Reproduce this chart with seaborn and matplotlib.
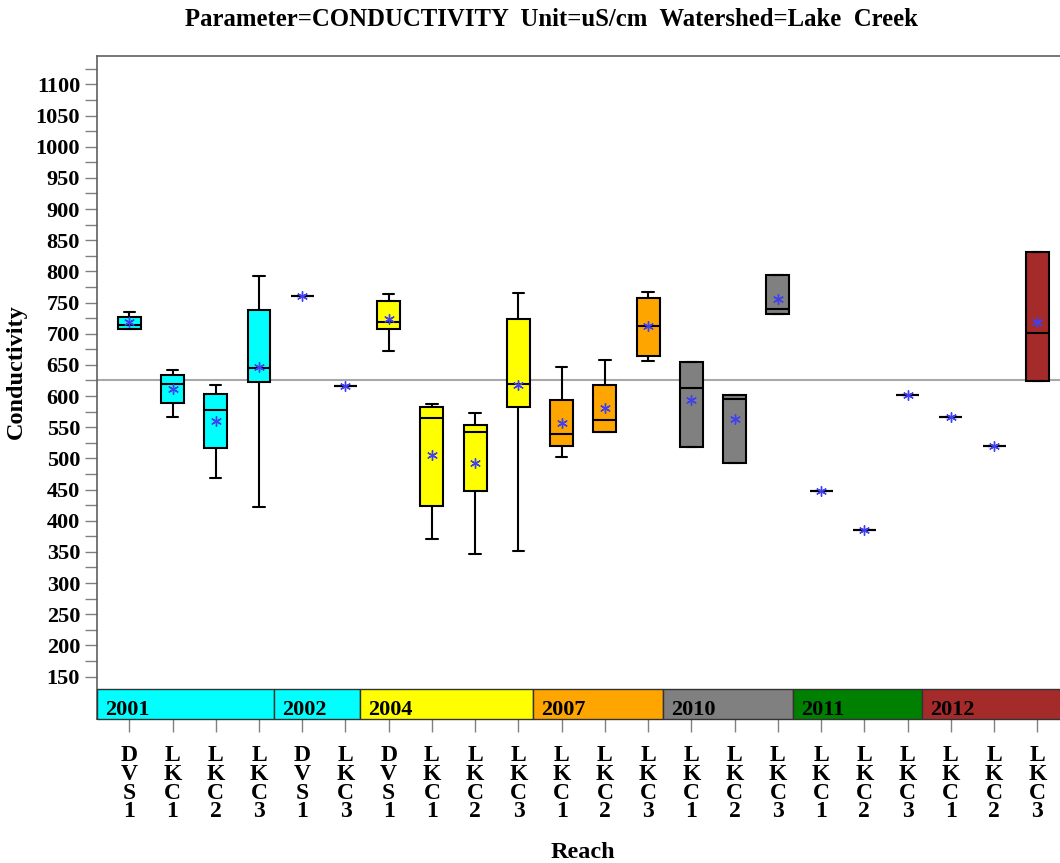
import matplotlib
matplotlib.use('Agg')
import matplotlib.pyplot as plt
from matplotlib.patches import Rectangle
import seaborn as sns
import pandas as pd
import numpy as np

# one entry per box, in plot order
years = ['2001'] * 4 + ['2002'] * 2 + ['2004'] * 4 + ['2007'] * 3 + ['2010'] * 3 + ['2011'] * 3 + ['2012'] * 3
reaches = ['DVS1', 'LKC1', 'LKC2', 'LKC3', 'DVS1', 'LKC3', 'DVS1', 'LKC1', 'LKC2', 'LKC3',
           'LKC1', 'LKC2', 'LKC3', 'LKC1', 'LKC2', 'LKC3', 'LKC1', 'LKC2', 'LKC3', 'LKC1', 'LKC2', 'LKC3']

mins = [708, 566, 469, 422, 760, 616, 673, 371, 347, 352, 503, 543, 656, 518, 493, 732, 447, 385, 602, 567, 520, 624]
q1s = [708, 589, 516, 623, 760, 616, 707, 424, 447, 582, 520, 543, 665, 518, 493, 732, 447, 385, 602, 567, 520, 624]
medians = [714, 620, 577, 645, 760, 616, 718, 564, 542, 620, 539, 561, 712, 613, 595, 740, 447, 385, 602, 567, 520, 701]
q3s = [727, 634, 604, 738, 760, 616, 753, 583, 554, 724, 594, 618, 758, 654, 601, 794, 447, 385, 602, 567, 520, 831]
maxs = [735, 642, 618, 792, 760, 616, 764, 587, 573, 765, 647, 658, 767, 654, 601, 794, 447, 385, 602, 567, 520, 831]
means = [718, 612, 560, 646, 760, 616, 723, 505, 493, 618, 557, 581, 712, 594, 563, 755, 447, 385, 602, 567, 520, 719]

year_colors = {'2001': '#00FFFF', '2002': '#00FFFF', '2004': '#FFFF00', '2007': '#FFA500',
               '2010': '#808080', '2011': '#008000', '2012': '#A52A2A'}
ref_value = 625

keys = [f'{y} {r}' for y, r in zip(years, reaches)]

# five summary values per box -> quartiles come out exactly with linear percentiles
rows = []
for k, a, b, c, d, e in zip(keys, mins, q1s, medians, q3s, maxs):
    for v in (a, b, c, d, e):
        rows.append({'key': k, 'value': v})
df = pd.DataFrame(rows)
mean_df = pd.DataFrame({'key': keys, 'mean': means})

sns.set_theme(style='ticks')
plt.rcParams['font.family'] = ['Liberation Serif', 'DejaVu Serif']
plt.rcParams['font.weight'] = 'bold'
plt.rcParams['text.color'] = 'black'
plt.rcParams['axes.labelcolor'] = 'black'
plt.rcParams['xtick.labelcolor'] = 'black'
plt.rcParams['ytick.labelcolor'] = 'black'

fig = plt.figure(figsize=(10.6, 8.63), dpi=100)
ax = fig.add_axes([0.0912, 0.1669, 1.0092 - 0.0912, 0.7686])

palette = {k: year_colors[y] for k, y in zip(keys, years)}
sns.boxplot(data=df, x='key', y='value', hue='key', order=keys, palette=palette,
            legend=False, dodge=False, saturation=1, width=0.53, whis=(0, 100),
            linecolor='black', linewidth=1.5, showfliers=False, ax=ax)
sns.stripplot(data=mean_df, x='key', y='mean', order=keys, jitter=False,
              marker=(6, 2, 0), size=7, color='#4040f0', edgecolor='#4040f0',
              linewidth=1.0, zorder=5, ax=ax)

ax.axhline(ref_value, color='#a8a8a8', lw=1.5, zorder=0.5)

x_left, x_right = -0.754, 21.75
y_bot, band_top = 82, 130
ax.set_xlim(x_left, x_right)
ax.set_ylim(y_bot, 1146)

# year band along the bottom
starts = [i for i in range(len(years)) if i == 0 or years[i] != years[i - 1]]
for j, s in enumerate(starts):
    x0 = x_left if j == 0 else s - 0.66
    x1 = x_right if j == len(starts) - 1 else starts[j + 1] - 0.66
    ax.add_patch(Rectangle((x0, y_bot), x1 - x0, band_top - y_bot,
                           facecolor=year_colors[years[s]], edgecolor='#333333',
                           lw=1, zorder=3, clip_on=False))
    ax.text(x0 + 0.19, 88, years[s], fontsize=16, fontweight='bold',
            ha='left', va='baseline', zorder=4)

ax.set_yticks(np.arange(150, 1101, 50))
ax.set_yticks(np.arange(175, 1126, 50), minor=True)
ax.tick_params(axis='y', which='both', length=9, width=1, color='#808080',
               labelsize=16, pad=3)
for t in ax.get_yticklabels():
    t.set_fontweight('bold')

ax.set_xticks(range(len(keys)))
ax.set_xticklabels(['\n'.join(r) for r in reaches], fontsize=17, fontweight='bold',
                   linespacing=0.85)
ax.tick_params(axis='x', length=9, width=1, color='#808080', pad=10)

for side in ['top', 'left', 'right', 'bottom']:
    ax.spines[side].set_color('#606060')
    ax.spines[side].set_linewidth(1.2)

ax.set_ylabel('Conductivity', fontsize=17.5, fontweight='bold')
ax.yaxis.set_label_coords(-0.0716, 0.523)
ax.set_xlabel('Reach', fontsize=17.5, fontweight='bold')
ax.xaxis.set_label_coords(0.5, -0.185)

fig.text(551.5 / 1060, 1 - 20 / 863,
         'Parameter=CONDUCTIVITY  Unit=uS/cm  Watershed=Lake  Creek',
         fontsize=17.8, fontweight='bold', ha='center', va='center')

fig.savefig('out.png', dpi=100)
